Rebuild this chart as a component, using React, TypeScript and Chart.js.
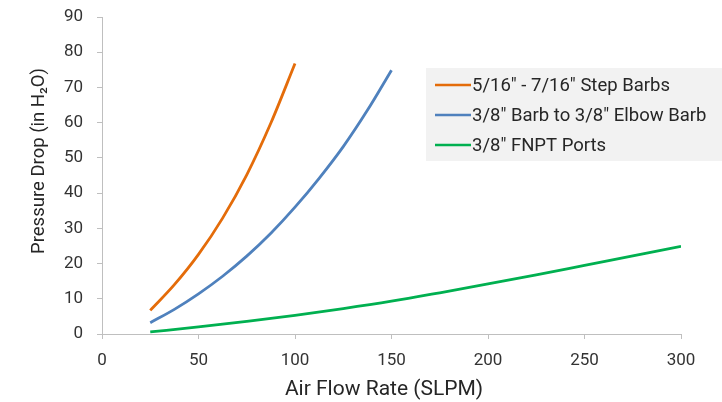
import React, { useEffect, useRef } from "react";
import { Chart, registerables } from "chart.js";

Chart.register(...registerables);

const stepBarbX = [25, 37.5, 50, 62.5, 75, 87.5, 100];
const stepBarbY = [6.7, 14.0, 22.6, 32.9, 45.2, 59.9, 76.8];

const elbowBarbX = [25, 37.5, 50, 62.5, 75, 87.5, 100, 112.5, 125, 137.5, 150];
const elbowBarbY = [3.2, 7.0, 11.4, 16.4, 22.1, 28.6, 36.0, 44.2, 53.2, 63.5, 74.9];

const fnptX = [25, 50, 75, 100, 125, 150, 175, 200, 225, 250, 275, 300];
const fnptY = [0.6, 2.0, 3.6, 5.3, 7.2, 9.3, 11.7, 14.2, 16.8, 19.5, 22.2, 24.9];

const seriesLabels = [
  '5/16" - 7/16" Step Barbs',
  '3/8" Barb to 3/8" Elbow Barb',
  '3/8" FNPT Ports',
];
const seriesColors = ["#E46C0A", "#4F81BD", "#00B050"];

const xTickStep = 50;
const yTickStep = 10;

const xTitle = "Air Flow Rate (SLPM)";
const yTitle = "Pressure Drop (in H\u2082O)";

const FONT = "Roboto, 'Noto Sans', sans-serif";

const toPoints = (xs: number[], ys: number[]) => xs.map((x, i) => ({ x, y: ys[i] }));

const decorations = {
  id: "decorations",
  afterDraw(chart: any) {
    const ctx = chart.ctx;
    ctx.save();
    ctx.fillStyle = "#262626";
    ctx.textAlign = "center";
    ctx.textBaseline = "middle";
    ctx.font = `21px ${FONT}`;
    ctx.fillText(xTitle, 384, 390);
    ctx.save();
    ctx.translate(39, 161);
    ctx.rotate(-Math.PI / 2);
    ctx.font = `18.5px ${FONT}`;
    ctx.fillText(yTitle, 0, 0);
    ctx.restore();

    const left = 426;
    const top = 68;
    const w = 296;
    const h = 93;
    ctx.fillStyle = "#f2f2f2";
    ctx.fillRect(left, top, w, h);
    ctx.font = `18.5px ${FONT}`;
    ctx.textAlign = "left";
    ctx.textBaseline = "middle";
    chart.data.datasets.forEach((ds: any, i: number) => {
      const cy = top + 17 + i * 30;
      ctx.strokeStyle = ds.borderColor;
      ctx.lineWidth = 2.5;
      ctx.beginPath();
      ctx.moveTo(435, cy);
      ctx.lineTo(471, cy);
      ctx.stroke();
      ctx.fillStyle = "#262626";
      ctx.fillText(ds.label, 472, cy + 1);
    });
    ctx.restore();
  },
};

export default function App() {
  const ref = useRef<HTMLCanvasElement | null>(null);
  useEffect(() => {
    if (!ref.current) return;
    const mk = (i: number, xs: number[], ys: number[]) => ({
      label: seriesLabels[i],
      data: toPoints(xs, ys),
      borderColor: seriesColors[i],
      backgroundColor: seriesColors[i],
      borderWidth: 2.8,
      pointRadius: 0,
      cubicInterpolationMode: "monotone" as const,
      fill: false,
    });
    const chart = new Chart(ref.current, {
      type: "line",
      data: {
        datasets: [
          mk(0, stepBarbX, stepBarbY),
          mk(1, elbowBarbX, elbowBarbY),
          mk(2, fnptX, fnptY),
        ],
      },
      options: {
        animation: false,
        responsive: false,
        maintainAspectRatio: false,
        layout: { padding: { left: 0, top: 17, right: 41, bottom: 0 } },
        plugins: {
          legend: { display: false },
          tooltip: { enabled: false },
          title: { display: false },
        },
        scales: {
          x: {
            type: "linear",
            min: 0,
            max: 300,
            afterFit: (s: any) => {
              s.height = 68;
              s.paddingLeft = 0;
              s.paddingRight = 0;
            },
            ticks: {
              stepSize: xTickStep,
              color: "#333",
              font: { family: FONT, size: 17 },
              padding: 12,
            },
            grid: {
              drawOnChartArea: false,
              drawTicks: true,
              tickLength: 5,
              color: "#bfbfbf",
            },
            border: { color: "#bfbfbf", width: 1 },
            title: { display: false, text: xTitle },
          },
          y: {
            type: "linear",
            min: 0,
            max: 90,
            afterFit: (s: any) => {
              s.width = 102;
              s.paddingTop = 0;
              s.paddingBottom = 0;
            },
            ticks: {
              stepSize: yTickStep,
              color: "#333",
              font: { family: FONT, size: 17 },
              padding: 14,
            },
            grid: {
              drawOnChartArea: false,
              drawTicks: true,
              tickLength: 5,
              color: "#bfbfbf",
            },
            border: { color: "#bfbfbf", width: 1 },
            title: { display: false, text: yTitle },
          },
        },
      },
      plugins: [decorations],
    });
    return () => chart.destroy();
  }, []);
  return (
    <div style={{ position: "absolute", left: 0, top: 0, width: 722, height: 402, background: "#fff" }}>
      <canvas ref={ref} width={722} height={402} style={{ width: 722, height: 402, display: "block" }} />
    </div>
  );
}
